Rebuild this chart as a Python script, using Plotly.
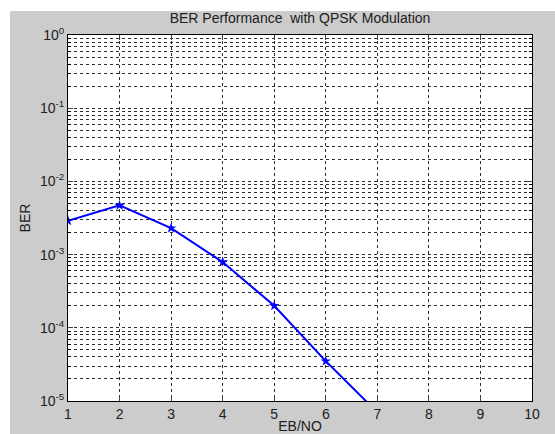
import plotly.graph_objects as go

ebno = [1, 2, 3, 4, 5, 6, 7]
ber = [2.9e-3, 4.7e-3, 2.3e-3, 7.9e-4, 2.0e-4, 3.5e-5, 7.0e-6]

x_ticks = [1, 2, 3, 4, 5, 6, 7, 8, 9, 10]
y_tickvals = [1e-5, 1e-4, 1e-3, 1e-2, 1e-1, 1e0]
y_ticktext = ["10<sup>-5</sup>", "10<sup>-4</sup>", "10<sup>-3</sup>",
              "10<sup>-2</sup>", "10<sup>-1</sup>", "10<sup>0</sup>"]

W, H = 555, 434
L, R, T, B = 68, 23, 35, 33
pw, ph = W - L - R, H - T - B

def px_x(p):
    return (p - L) / pw

def px_y(p):
    return (H - B - p) / ph

font = dict(family="Liberation Sans, Arial, sans-serif", size=13, color="#202020")
grid_col = "#2e2e2e"

fig = go.Figure()
fig.add_trace(go.Scatter(
    x=ebno, y=ber, mode="lines+markers",
    line=dict(color="#0000ff", width=2),
    marker=dict(symbol="star", size=8, color="#0000ff"),
    cliponaxis=True, showlegend=False,
))

fig.update_layout(
    width=W, height=H,
    margin=dict(l=L, r=R, t=T, b=B, autoexpand=False),
    paper_bgcolor="#cccccc",
    plot_bgcolor="white",
    font=font,
    title=dict(text="BER Performance  with QPSK Modulation", x=0.5, xanchor="center",
               xref="paper",
               y=1 - 18 / H, yanchor="middle", font=dict(size=14, color="#202020")),
    xaxis=dict(
        range=[1, 10], tickvals=x_ticks, ticks="inside", ticklen=5, automargin=False,
        showline=True, linecolor="black", linewidth=1, mirror="allticks",
        showgrid=True, gridcolor=grid_col, griddash="dot", gridwidth=1,
        zeroline=False, tickfont=dict(size=14),
        title=dict(text="EB/NO", standoff=7, font=dict(size=14)),
    ),
    yaxis=dict(
        type="log", range=[-5, 0], tickvals=y_tickvals, ticktext=y_ticktext,
        ticks="inside", ticklen=5, automargin=False,
        showline=True, linecolor="black", linewidth=1, mirror="allticks",
        showgrid=True, gridcolor=grid_col, griddash="dot", gridwidth=1,
        zeroline=False, tickfont=dict(size=14),
        minor=dict(dtick="D1", showgrid=True, gridcolor=grid_col, griddash="dot",
                   gridwidth=1, ticks="inside", ticklen=3, tickcolor="black"),
        title=dict(text="BER", standoff=6, font=dict(size=14)),
    ),
    shapes=[
        dict(type="rect", xref="paper", yref="paper", layer="below",
             x0=px_x(0), x1=px_x(10), y0=px_y(H), y1=px_y(0),
             fillcolor="white", line=dict(width=0)),
        dict(type="rect", xref="paper", yref="paper", layer="below",
             x0=px_x(0), x1=px_x(W), y0=px_y(11), y1=px_y(0),
             fillcolor="white", line=dict(width=0)),
    ],
)

fig.write_html(
    "out.html",
    config={"displayModeBar": False},
    post_script="document.documentElement.style.margin='0';"
                "document.body.style.margin='0';"
                "document.body.style.overflow='hidden';",
)
